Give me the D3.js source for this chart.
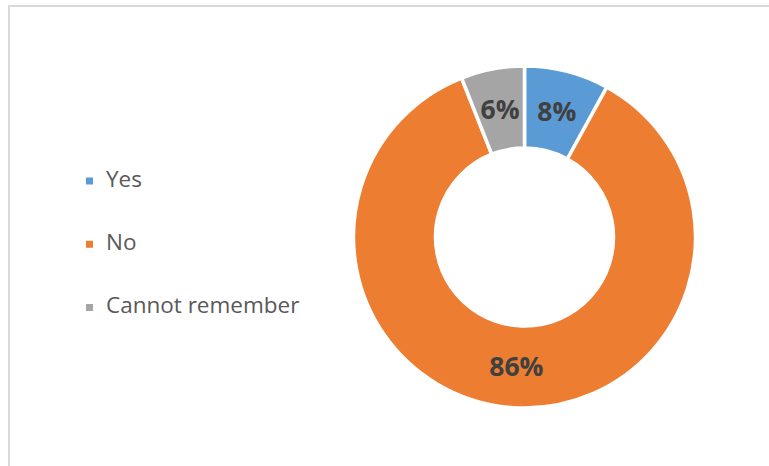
<!DOCTYPE html>
<html>
<head>
<meta charset="utf-8">
<script src="https://cdn.jsdelivr.net/npm/d3@7"></script>
<style>
  html, body { margin: 0; padding: 0; background: #fff; }
  svg { display: block; }
</style>
</head>
<body>
<svg id="chart" width="769" height="466"></svg>
<script>
const categories = ["Yes", "No", "Cannot remember"];
const values = [8, 86, 6];
const colors = ["#5B9BD5", "#ED7D31", "#A5A5A5"];

const svg = d3.select("#chart");
const W = 769, H = 466;

// chart frame
svg.append("rect")
  .attr("x", 9).attr("y", 6)
  .attr("width", W + 20).attr("height", H + 20)
  .attr("fill", "#fff")
  .attr("stroke", "#d9d9d9")
  .attr("stroke-width", 2);

const cx = 524.5, cy = 237, rOuter = 171, rInner = 89;
const data = categories.map((c, i) => ({ cat: c, value: values[i], color: colors[i] }));

const pie = d3.pie().value(d => d.value).sort(null);
const arc = d3.arc().innerRadius(rInner).outerRadius(rOuter);
const labelArc = d3.arc().innerRadius((rInner + rOuter) / 2).outerRadius((rInner + rOuter) / 2);
const total = d3.sum(values);

const g = svg.append("g").attr("transform", `translate(${cx},${cy})`);
const arcs = pie(data);

g.selectAll("path.slice").data(arcs).join("path")
  .attr("class", "slice")
  .attr("d", arc)
  .attr("fill", d => d.data.color)
  .attr("stroke", "#fff")
  .attr("stroke-width", 3.5)
  .attr("stroke-linejoin", "miter");

g.selectAll("text.lbl").data(arcs).join("text")
  .attr("class", "lbl")
  .attr("transform", d => `translate(${labelArc.centroid(d)})`)
  .attr("text-anchor", "middle")
  .attr("dy", "0.36em")
  .attr("font-family", "'Open Sans', sans-serif")
  .attr("font-weight", "bold")
  .attr("font-size", 26.5)
  .attr("fill", "#404040")
  .text(d => Math.round(d.data.value / total * 100) + "%");

// legend
const legendY = d3.scalePoint().domain(categories).range([181, 307.5]);
const leg = svg.append("g");
const items = leg.selectAll("g").data(data).join("g")
  .attr("transform", d => `translate(0,${legendY(d.cat)})`);
items.append("rect")
  .attr("x", 86).attr("y", -3.5)
  .attr("width", 7).attr("height", 7)
  .attr("fill", d => d.color);
items.append("text")
  .attr("x", 106)
  .attr("y", 5.5)
  .attr("font-family", "'Open Sans', sans-serif")
  .attr("font-size", 22.5)
  .attr("fill", "#595959")
  .text(d => d.cat);
</script>
</body>
</html>
